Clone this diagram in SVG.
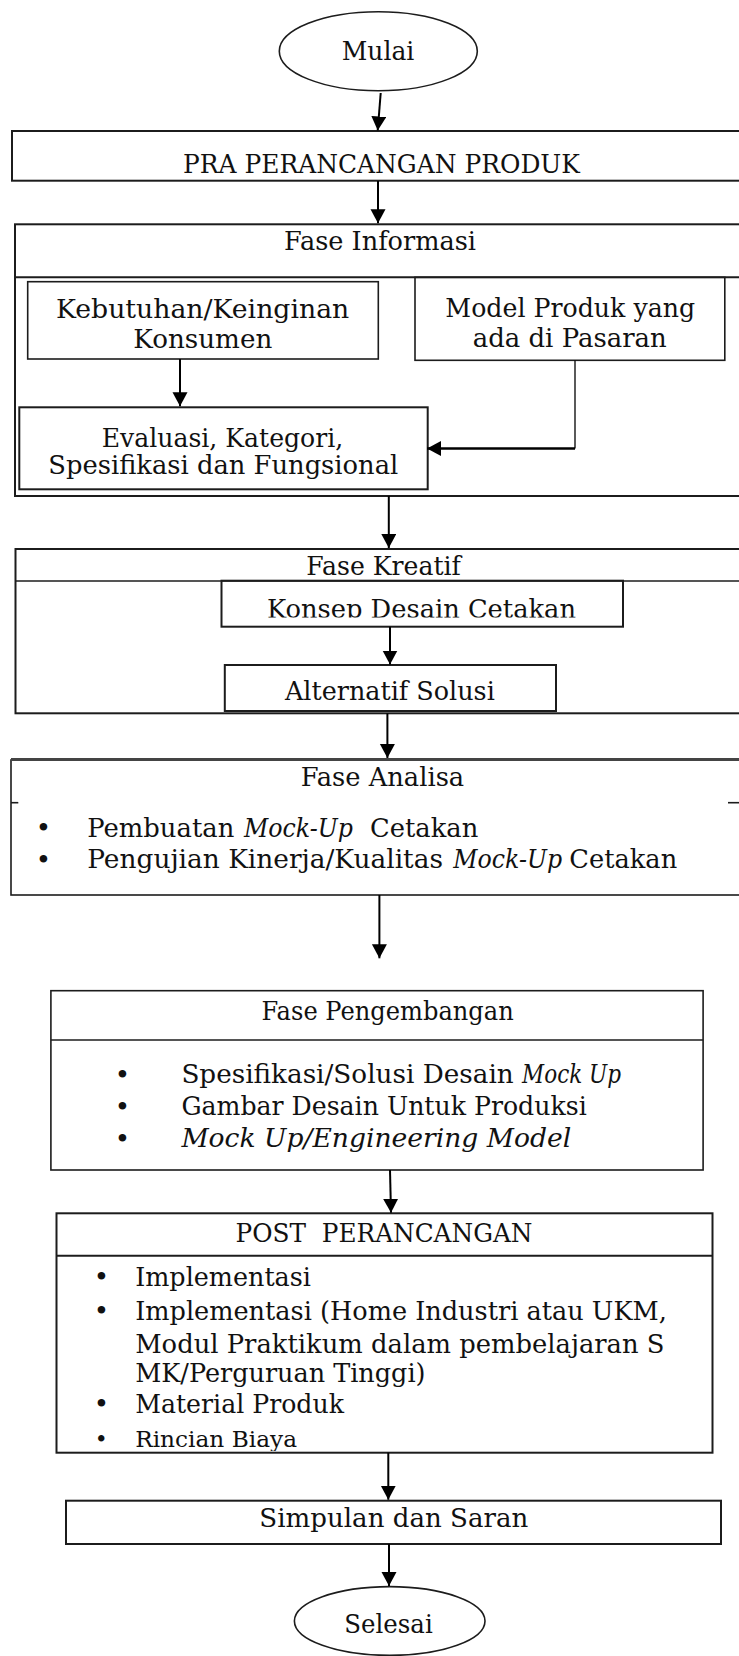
<svg xmlns="http://www.w3.org/2000/svg" width="739" height="1656" viewBox="0 0 739 1656">
<style>
.box{fill:none;stroke:#1c1c1c;stroke-width:2}
.inner{fill:none;stroke:#1c1c1c;stroke-width:1.6}
.conn{fill:none;stroke:#000;stroke-width:2}
text{font-family:"DejaVu Serif","Liberation Serif",serif;font-size:26px;fill:#111}
.it{font-style:italic}
.bul{text-anchor:middle}
</style>
<defs>
<marker id="ah" markerUnits="userSpaceOnUse" markerWidth="16" markerHeight="16" refX="14" refY="7.5" orient="auto">
<path d="M0,0 L14,7.5 L0,15 Z" fill="#000"/>
</marker>
<clipPath id="clipKonsep"><rect x="221" y="580" width="403" height="37.5"/></clipPath>
<clipPath id="clipMock"><rect x="50" y="1040" width="654" height="112.5"/></clipPath>
<clipPath id="clipRincian"><rect x="56" y="1256" width="657" height="195"/></clipPath>
</defs>
<rect width="739" height="1656" fill="#fff"/>

<g id="mulai">
<ellipse cx="378.3" cy="51.2" rx="99" ry="39.5" class="inner"/>
<text x="341.7" y="60" textLength="72.6" lengthAdjust="spacingAndGlyphs">Mulai</text>
</g>

<g id="pra">
<rect x="12" y="131" width="760" height="49.7" class="box"/>
<text x="183" y="173.3" textLength="397" lengthAdjust="spacingAndGlyphs">PRA PERANCANGAN PRODUK</text>
</g>

<g id="fase-informasi">
<rect x="15" y="224.3" width="760" height="271.7" class="box"/>
<line x1="15" y1="277.3" x2="739" y2="277.3" class="box"/>
<text x="284" y="250" textLength="192" lengthAdjust="spacingAndGlyphs">Fase Informasi</text>
</g>

<g id="kebutuhan">
<rect x="27.7" y="281.7" width="350.6" height="77.3" class="inner"/>
<text x="56" y="317.7" textLength="293.3" lengthAdjust="spacingAndGlyphs">Kebutuhan/Keinginan</text>
<text x="133.3" y="348.3" textLength="139" lengthAdjust="spacingAndGlyphs">Konsumen</text>
</g>

<g id="model-produk">
<rect x="415" y="277.3" width="309.8" height="83" class="inner"/>
<text x="445.3" y="317" textLength="249.8" lengthAdjust="spacingAndGlyphs">Model Produk yang</text>
<text x="472.7" y="347" textLength="194.1" lengthAdjust="spacingAndGlyphs">ada di Pasaran</text>
</g>

<g id="evaluasi">
<rect x="19.3" y="407.3" width="408.4" height="82" class="box"/>
<text x="101.7" y="446.7" textLength="241.6" lengthAdjust="spacingAndGlyphs">Evaluasi, Kategori,</text>
<text x="48.3" y="474.3" textLength="350" lengthAdjust="spacingAndGlyphs">Spesifikasi dan Fungsional</text>
</g>

<g id="fase-kreatif">
<rect x="15.5" y="549" width="760" height="164.3" class="box"/>
<line x1="15.5" y1="581" x2="739" y2="581" class="inner"/>
<text x="306.3" y="575" textLength="154.6" lengthAdjust="spacingAndGlyphs">Fase Kreatif</text>
</g>

<g id="konsep">
<rect x="221.5" y="580.7" width="401.5" height="46" class="box"/>
<text x="267" y="617.5" textLength="309" lengthAdjust="spacingAndGlyphs" clip-path="url(#clipKonsep)">Konsep Desain Cetakan</text>
</g>

<g id="alternatif">
<rect x="224.8" y="665" width="331.2" height="46" class="box"/>
<text x="285" y="700" textLength="209.8" lengthAdjust="spacingAndGlyphs">Alternatif Solusi</text>
</g>

<g id="fase-analisa">
<rect x="11" y="760" width="760" height="135" class="inner"/>
<line x1="11" y1="759.5" x2="739" y2="759.5" stroke="#444" stroke-width="3"/>
<line x1="11" y1="802.7" x2="18.3" y2="802.7" class="inner"/>
<line x1="728" y1="802.7" x2="739" y2="802.7" class="inner"/>
<text x="300.7" y="785.5" textLength="163.5" lengthAdjust="spacingAndGlyphs">Fase Analisa</text>
<text x="43.3" y="837" class="bul">•</text>
<text x="43.3" y="868.5" class="bul">•</text>
<text x="87.3" y="836.7" textLength="147" lengthAdjust="spacingAndGlyphs">Pembuatan</text>
<text x="244" y="836.7" textLength="109" lengthAdjust="spacingAndGlyphs" class="it">Mock-Up</text>
<text x="370" y="836.7" textLength="108.3" lengthAdjust="spacingAndGlyphs">Cetakan</text>
<text x="87.3" y="868.3" textLength="355.7" lengthAdjust="spacingAndGlyphs">Pengujian Kinerja/Kualitas</text>
<text x="453.3" y="868.3" textLength="108.9" lengthAdjust="spacingAndGlyphs" class="it">Mock-Up</text>
<text x="569.3" y="868.3" textLength="107.9" lengthAdjust="spacingAndGlyphs">Cetakan</text>
</g>

<g id="fase-pengembangan">
<rect x="50.9" y="990.7" width="652.2" height="179.3" class="inner"/>
<line x1="50.9" y1="1040" x2="703.1" y2="1040" class="inner"/>
<text x="261.5" y="1020" textLength="252.2" lengthAdjust="spacingAndGlyphs">Fase Pengembangan</text>
<text x="122.5" y="1083.5" class="bul">•</text>
<text x="122.5" y="1115.5" class="bul">•</text>
<text x="122.5" y="1147.5" class="bul">•</text>
<text x="181.4" y="1083" textLength="332.3" lengthAdjust="spacingAndGlyphs">Spesifikasi/Solusi Desain</text>
<text x="522.1" y="1083" textLength="99" lengthAdjust="spacingAndGlyphs" class="it">Mock Up</text>
<text x="181.4" y="1115" textLength="405.3" lengthAdjust="spacingAndGlyphs">Gambar Desain Untuk Produksi</text>
<text x="181.4" y="1147" textLength="389.8" lengthAdjust="spacingAndGlyphs" class="it" clip-path="url(#clipMock)">Mock Up/Engineering Model</text>
</g>

<g id="post-perancangan">
<rect x="56.5" y="1213.3" width="656" height="239.4" class="box"/>
<line x1="56.5" y1="1255.7" x2="712.5" y2="1255.7" class="box"/>
<text x="235.6" y="1241.7" textLength="296.9" lengthAdjust="spacingAndGlyphs" xml:space="preserve">POST  PERANCANGAN</text>
<text x="101.3" y="1286" class="bul">•</text>
<text x="101.3" y="1320" class="bul">•</text>
<text x="101.3" y="1413" class="bul">•</text>
<text x="101.3" y="1447" class="bul" style="font-size:22px">•</text>
<text x="135.2" y="1286" textLength="175.8" lengthAdjust="spacingAndGlyphs">Implementasi</text>
<text x="135.2" y="1320" textLength="531.6" lengthAdjust="spacingAndGlyphs">Implementasi (Home Industri atau UKM,</text>
<text x="135.2" y="1353" textLength="529.3" lengthAdjust="spacingAndGlyphs">Modul Praktikum dalam pembelajaran S</text>
<text x="135.2" y="1381.7" textLength="290.3" lengthAdjust="spacingAndGlyphs">MK/Perguruan Tinggi)</text>
<text x="135.2" y="1413" textLength="208.8" lengthAdjust="spacingAndGlyphs">Material Produk</text>
<text x="135.2" y="1447" textLength="161.8" lengthAdjust="spacingAndGlyphs" style="font-size:22px" clip-path="url(#clipRincian)">Rincian Biaya</text>
</g>

<g id="simpulan">
<rect x="66" y="1500.7" width="655" height="43.3" class="box"/>
<text x="259.3" y="1527.3" textLength="269" lengthAdjust="spacingAndGlyphs">Simpulan dan Saran</text>
</g>

<g id="selesai">
<ellipse cx="389.7" cy="1621" rx="95.3" ry="34.4" class="inner"/>
<text x="344.3" y="1633.3" textLength="88.4" lengthAdjust="spacingAndGlyphs">Selesai</text>
</g>

<g id="connectors">
<line x1="380.7" y1="93" x2="377.7" y2="130.5" class="conn" marker-end="url(#ah)"/>
<line x1="378" y1="181" x2="378" y2="223.3" class="conn" marker-end="url(#ah)"/>
<line x1="180" y1="359" x2="180" y2="406.3" class="conn" marker-end="url(#ah)"/>
<polyline points="575,360.5 575,448.5" fill="none" stroke="#000" stroke-width="1.3"/>
<line x1="575" y1="448.5" x2="427" y2="448.5" stroke="#000" stroke-width="2.6" marker-end="url(#ah)"/>
<line x1="388.8" y1="496" x2="388.8" y2="548" class="conn" marker-end="url(#ah)"/>
<line x1="390" y1="626.7" x2="390" y2="664.5" class="conn" marker-end="url(#ah)"/>
<line x1="387.4" y1="713.3" x2="387.4" y2="758" class="conn" marker-end="url(#ah)"/>
<line x1="379.4" y1="895" x2="379.4" y2="958.3" class="conn" marker-end="url(#ah)"/>
<line x1="390" y1="1170" x2="391" y2="1212.8" class="conn" marker-end="url(#ah)"/>
<line x1="388.3" y1="1452.7" x2="388.3" y2="1499.7" class="conn" marker-end="url(#ah)"/>
<line x1="389" y1="1544" x2="389" y2="1586" class="conn" marker-end="url(#ah)"/>
</g>
</svg>
